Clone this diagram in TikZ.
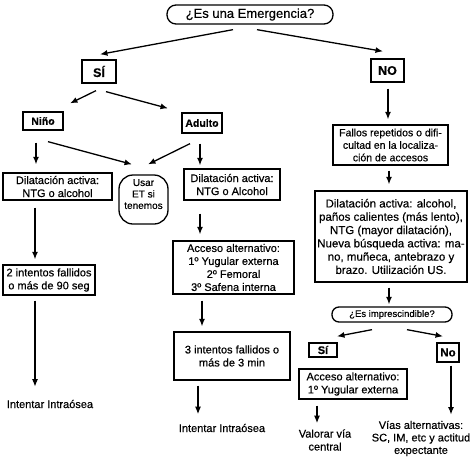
\documentclass[tikz,border=0pt]{standalone}
\usepackage{fontspec}
\setmainfont{Liberation Sans}[FakeBold=0.4]
\usetikzlibrary{arrows.meta,calc}
\begin{document}
\begin{tikzpicture}[x=1pt,y=-1pt,
  box/.style={draw, line width=1.3pt, inner sep=0pt, align=center, font=\fontsize{11}{13}\selectfont},
  bbox/.style={draw, line width=1.3pt, inner sep=0pt, align=center, font=\bfseries\fontsize{11}{13}\selectfont},
  lbl/.style={inner sep=0pt, align=center, font=\fontsize{11}{13}\selectfont},
  arr/.style={line width=1.3pt, -{Latex[length=7.5pt,width=6pt]}},
]
\useasboundingbox[fill=white] (0,0) rectangle (474,461);

% nodes
\node[box, minimum width=166pt, minimum height=19pt, rounded corners=9pt, font=\fontsize{13}{15}\selectfont] (emerg) at (250,14.5) {¿Es una Emergencia?};
\node[bbox, minimum width=34pt, minimum height=23pt, font=\bfseries\fontsize{12.5}{14}\selectfont] (si) at (99,71.5) {SÍ};
\node[bbox, minimum width=33pt, minimum height=23pt, font=\bfseries\fontsize{12.5}{14}\selectfont] (no) at (387.5,70.5) {NO};
\node[bbox, minimum width=40pt, minimum height=18pt, font=\bfseries\fontsize{10.5}{12}\selectfont] (nino) at (43,121) {Niño};
\node[bbox, minimum width=40pt, minimum height=20pt, font=\bfseries\fontsize{10.5}{12}\selectfont] (adulto) at (202,123) {Adulto};
\node[box, minimum width=109pt, minimum height=27pt] (dilN) at (57.5,186.5) {Dilatación activa:\\NTG o alcohol};
\node[box, minimum width=49pt, minimum height=49pt, rounded corners=14pt, text depth=11pt, font=\fontsize{10}{11.5}\selectfont] (usar) at (143.5,199.5) {Usar\\ET si\\tenemos};
\node[box, minimum width=96pt, minimum height=31pt] (dilA) at (232,184.5) {Dilatación activa:\\NTG o Alcohol};
\node[box, minimum width=121pt, minimum height=53pt] (acc) at (233.5,267.5) {Acceso alternativo:\\1º Yugular externa\\2º Femoral\\3º Safena interna};
\node[box, minimum width=116pt, minimum height=48pt] (tres) at (232,356) {3 intentos fallidos o\\más de 3 min};
\node[lbl] (intA) at (222,428) {Intentar Intraósea};
\node[box, minimum width=92pt, minimum height=30pt] (dos) at (49,280) {2 intentos fallidos\\o más de 90 seg};
\node[lbl] (intN) at (50,404) {Intentar Intraósea};
\node[box, minimum width=115pt, minimum height=40pt, font=\fontsize{10.5}{12.5}\selectfont] (fallos) at (390.5,145) {Fallos repetidos o difi-\\cultad en la localiza-\\ción de accesos};
\node[box, minimum width=152pt, minimum height=91pt, font=\fontsize{11.5}{13.3}\selectfont] (dilR) at (391,236.5) {Dilatación activa: alcohol,\\paños calientes (más lento),\\NTG (mayor dilatación),\\Nueva búsqueda activa: ma-\\no, muñeca, antebrazo y\\brazo. Utilización US.};
\node[box, minimum width=120pt, minimum height=15pt, rounded corners=7pt, font=\fontsize{9.5}{11}\selectfont] (imp) at (392,314.5) {¿Es imprescindible?};
\node[bbox, minimum width=28pt, minimum height=14pt] (si2) at (323,350) {Sí};
\node[bbox, minimum width=22pt, minimum height=19pt, font=\bfseries\fontsize{11.5}{13}\selectfont] (no2) at (448,352.5) {No};
\node[box, minimum width=108pt, minimum height=30pt] (accR) at (353,384) {Acceso alternativo:\\1º Yugular externa};
\node[lbl] (valorar) at (325,440) {Valorar vía\\central};
\node[lbl, font=\fontsize{11}{12.5}\selectfont] (vias) at (421,438.5) {Vías alternativas:\\SC, IM, etc y actitud\\expectante};

% arrows
\draw[arr] ($(emerg.south)+(-17,5)$) -- ($(si.north)+(1,-5)$);
\draw[arr] ($(emerg.south)+(7,5)$) -- ($(no.north)+(-4.5,-7)$);
\draw[arr] ($(si.south)+(-3,7)$) -- ($(nino.north)+(27,-8)$);
\draw[arr] ($(si.south)+(7,8)$) -- ($(adulto.north)+(-34,-4)$);
\draw[arr] ($(no.south)+(0.5,6)$) -- ($(fallos.north)+(-2.5,-5)$);
\draw[arr] ($(nino.south)+(-7,12)$) -- ($(dilN.north)+(-21.5,-8)$);
\draw[arr] ($(nino.south)+(5,11)$) -- ($(usar.north)+(-11.5,-10)$);
\draw[arr] ($(adulto.south)+(-12,10)$) -- ($(usar.north)+(4.5,-10)$);
\draw[arr] ($(adulto.south)+(-2,10)$) -- ($(dilA.north)+(-32,-3)$);
\draw[arr] ($(dilN.south)+(-22.5,7)$) -- ($(dos.north)+(-14,-5)$);
\draw[arr] ($(dos.south)+(-14,5)$) -- ($(intN.north)+(-15,-13)$);
\draw[arr] ($(dilA.south)+(-32,13)$) -- ($(acc.north)+(-33.5,-6)$);
\draw[arr] ($(acc.south)+(-31.5,6)$) -- ($(tres.north)+(-30,-5)$);
\draw[arr] ($(tres.south)+(-34,5)$) -- ($(intA.north)+(-24,-9.5)$);
\draw[arr] ($(fallos.south)+(-1.5,5)$) -- ($(dilR.north)+(-2,-6)$);
\draw[arr] ($(dilR.south)+(-2,5)$) -- ($(imp.north)+(-3,-2)$);
\draw[arr] ($(imp.south)+(-20,7)$) -- ($(si2.north)+(14,-6)$);
\draw[arr] ($(imp.south)+(15,7)$) -- ($(no2.north)+(-5,-6)$);
\draw[arr] ($(accR.south)+(-36,6)$) -- ($(valorar.north)+(-8,-6)$);
\draw[arr] ($(no2.south)+(3,3)$) -- ($(vias.north)+(30,-6)$);
\end{tikzpicture}
\end{document}
